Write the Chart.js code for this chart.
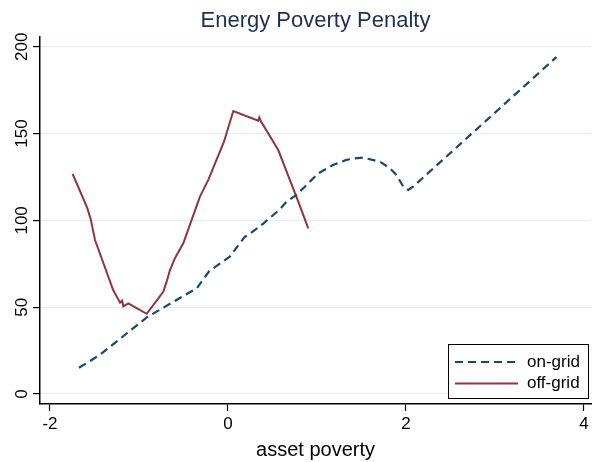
<!DOCTYPE html>
<html>
<head>
<meta charset="utf-8">
<title>Energy Poverty Penalty</title>
<script src="https://cdn.jsdelivr.net/npm/chart.js@4.4.1/dist/chart.umd.min.js"></script>
<style>
    html, body { margin: 0; padding: 0; background: #fff; }
</style>
</head>
<body>
<canvas id="penaltyChart" width="592" height="462"></canvas>
<script>
// Chart data
const onGridX = [-1.674, -1.44, -0.91, -0.483, -0.35, -0.21, 0.02, 0.19, 0.23, 0.40, 0.584, 0.66, 0.77,
                 0.92, 1.015, 1.18, 1.33, 1.427, 1.52, 1.708, 1.82, 1.895, 1.97, 2.026, 2.08, 3.69];
const onGridY = [15.1, 22.5, 44.2, 57.0, 60.9, 70.8, 79.1, 90.6, 91.6, 98.3, 106.4, 110.8, 114.6,
                 122.3, 127.1, 131.9, 134.8, 135.7, 136.1, 133.8, 130.0, 126.0, 119.4, 117.5, 119.4, 194.0];

const offGridX = [-1.745, -1.58, -1.54, -1.494, -1.29, -1.213, -1.19, -1.175, -1.12, -1.026, -0.913,
                  -0.727, -0.689, -0.652, -0.596, -0.502, -0.315, -0.221, -0.045, 0.06, 0.34, 0.352,
                  0.37, 0.565, 0.79, 0.902];
const offGridY = [126.7, 107.0, 100.2, 88.7, 59.9, 52.6, 53.8, 50.5, 52.2, 49.4, 46.2,
                  58.9, 64.7, 71.4, 78.2, 86.8, 113.7, 123.3, 145.3, 163.0, 157.4, 159.3,
                  157.0, 140.5, 110.8, 95.4];

const xTicks = [-2, 0, 2, 4];
const yTicks = [0, 50, 100, 150, 200];

const fontFamily = '"Liberation Sans", Arial, Helvetica, sans-serif';

function toPoints(xs, ys) {
    return xs.map((x, i) => ({ x: x, y: ys[i] }));
}

// Boxed legend in the lower right corner of the plot
const boxLegend = {
    id: 'boxLegend',
    afterDraw(chart) {
        const ctx = chart.ctx;
        const area = chart.chartArea;
        const x0 = area.right - 143;
        const y0 = area.bottom - 60;
        const w = 140, h = 54;
        ctx.save();
        ctx.fillStyle = '#fff';
        ctx.fillRect(x0, y0, w, h);
        ctx.strokeStyle = '#000';
        ctx.lineWidth = 1;
        ctx.strokeRect(x0 + 0.5, y0 + 0.5, w, h);
        chart.data.datasets.forEach((ds, i) => {
            const y = y0 + 18 + i * 21.5;
            ctx.beginPath();
            ctx.setLineDash(ds.borderDash || []);
            ctx.strokeStyle = ds.borderColor;
            ctx.lineWidth = ds.borderWidth;
            ctx.moveTo(x0 + 7, y);
            ctx.lineTo(x0 + 70, y);
            ctx.stroke();
            ctx.setLineDash([]);
            ctx.fillStyle = '#000';
            ctx.font = '17px ' + fontFamily;
            ctx.textBaseline = 'middle';
            ctx.textAlign = 'left';
            ctx.fillText(ds.label, x0 + 79, y);
        });
        ctx.restore();
    }
};

const ctx = document.getElementById('penaltyChart').getContext('2d');
new Chart(ctx, {
    type: 'line',
    data: {
        datasets: [{
            label: 'on-grid',
            data: toPoints(onGridX, onGridY),
            borderColor: '#1a476f',
            borderWidth: 2.2,
            borderDash: [8, 5],
            pointRadius: 0,
            tension: 0,
            fill: false
        }, {
            label: 'off-grid',
            data: toPoints(offGridX, offGridY),
            borderColor: '#90353b',
            borderWidth: 2,
            pointRadius: 0,
            tension: 0,
            fill: false
        }]
    },
    plugins: [boxLegend],
    options: {
        responsive: false,
        animation: false,
        layout: {
            padding: { left: 0, right: 1, top: 0, bottom: 0 }
        },
        plugins: {
            legend: { display: false },
            tooltip: { enabled: false },
            title: {
                display: true,
                text: 'Energy Poverty Penalty',
                fullSize: false,
                color: '#1e2e5a',
                font: { family: fontFamily, size: 22, weight: 'normal', lineHeight: 1.2 },
                padding: { top: 8, bottom: 2.6 }
            }
        },
        scales: {
            x: {
                type: 'linear',
                min: -2.112,
                max: 4.079,
                afterBuildTicks: axis => { axis.ticks = xTicks.map(v => ({ value: v })); },
                afterFit: axis => { axis.height = 58; },
                border: { display: true, color: '#000', width: 1.5 },
                grid: { drawOnChartArea: false, drawTicks: true, tickColor: '#000', tickLength: 7, tickWidth: 1.2 },
                ticks: {
                    color: '#000',
                    padding: 3,
                    maxRotation: 0,
                    font: { family: fontFamily, size: 17 }
                },
                title: {
                    display: true,
                    text: 'asset poverty',
                    color: '#000',
                    font: { family: fontFamily, size: 20 },
                    padding: { top: 0, bottom: 0 }
                }
            },
            y: {
                type: 'linear',
                min: -5.76,
                max: 205.6,
                afterBuildTicks: axis => { axis.ticks = yTicks.map(v => ({ value: v })); },
                afterFit: axis => { axis.width = 40; },
                border: { display: true, color: '#000', width: 1.5 },
                grid: { color: '#e6eef1', lineWidth: 1.2, drawTicks: true, tickColor: '#000', tickLength: 7, tickWidth: 1.2 },
                ticks: {
                    color: '#000',
                    padding: -3,
                    minRotation: 90,
                    maxRotation: 90,
                    crossAlign: 'center',
                    font: { family: fontFamily, size: 17 }
                }
            }
        }
    }
});
</script>
</body>
</html>
